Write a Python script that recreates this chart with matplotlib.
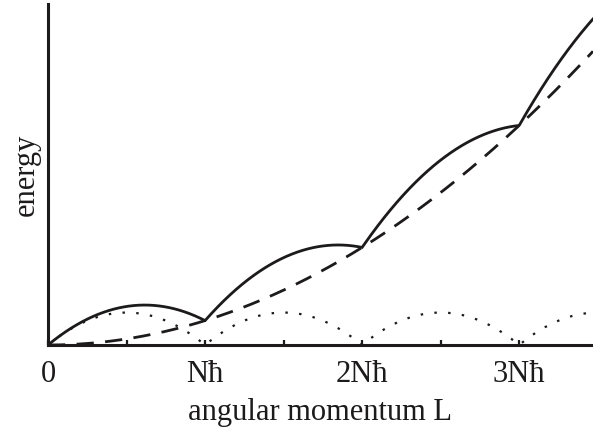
import numpy as np
import matplotlib
matplotlib.use("Agg")
import matplotlib.pyplot as plt

# Axis labelling (angular momentum in units of N*hbar)
tick_positions = [0, 1, 2, 3]
tick_labels = ["0", "Nħ", "2Nħ", "3Nħ"]
minor_positions = [0.5, 1.5, 2.5]
L_max = 3.47
E_max = 13.98

# Energy scale: rigid-rotation energy at L = N, and height of the single-vortex arc
E_rigid_at_N = 1.0
arc_height = 1.33

plt.rcParams["font.family"] = ["Liberation Serif", "DejaVu Serif"]
ink = "#1c1a1b"

fig = plt.figure(figsize=(5.93, 4.32), dpi=100)
ax = fig.add_axes([48 / 593, 87 / 432, 545 / 593, 341 / 432])

L = np.linspace(0, L_max, 1200)
frac = L - np.floor(L)
arcs = 4 * arc_height * frac * (1 - frac)
rigid = E_rigid_at_N * L ** 2
yrast = rigid + arcs

ax.plot(L, yrast, color=ink, lw=2.0, solid_joinstyle="miter")
ax.plot(L, rigid, color=ink, lw=2.0, dashes=(6.2, 4.1))
ax.plot(L, arcs, color=ink, lw=1.6, dashes=(1.1, 5.1))

ax.set_xlim(0, L_max)
ax.set_ylim(0, E_max)

for side in ("top", "right"):
    ax.spines[side].set_visible(False)
for side in ("left", "bottom"):
    ax.spines[side].set_linewidth(2.2)
    ax.spines[side].set_color(ink)

ax.set_xticks(tick_positions)
ax.set_xticklabels(tick_labels)
ax.set_xticks(minor_positions, minor=True)
ax.tick_params(axis="x", which="both", direction="in", length=3.5, width=1.6,
               color=ink, labelsize=22, pad=11, labelcolor=ink)
ax.set_yticks([])

ax.set_xlabel("angular momentum L", fontsize=22, color=ink, labelpad=6)
ax.set_ylabel("energy", fontsize=22, color=ink, labelpad=5)

fig.savefig("out.png", dpi=100)
